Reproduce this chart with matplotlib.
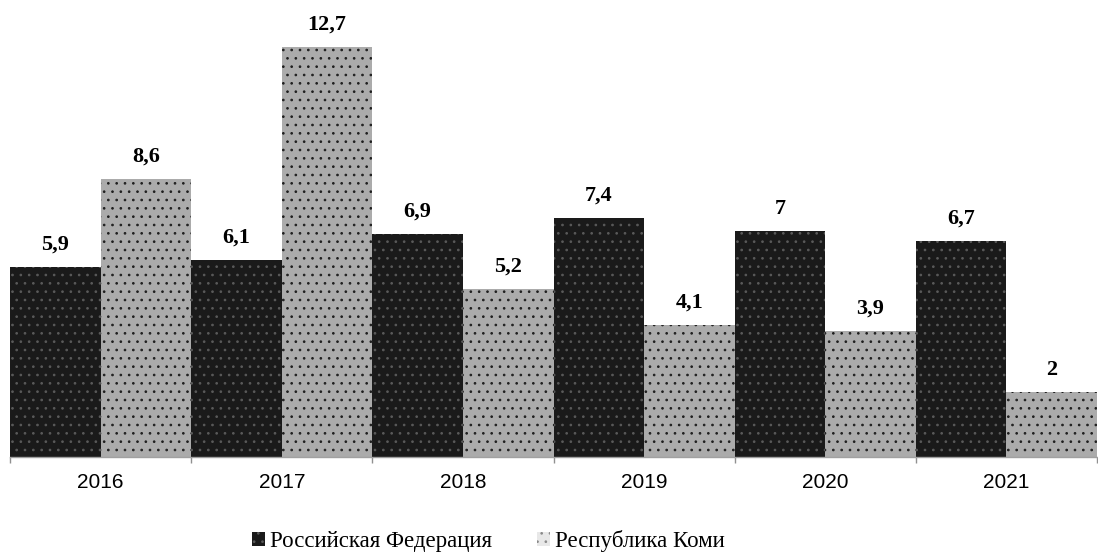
import numpy as np
import matplotlib.pyplot as plt
from matplotlib.patches import Patch
from matplotlib.font_manager import FontProperties

plt.switch_backend("agg")
plt.rcParams["hatch.linewidth"] = 0.7

years = ["2016", "2017", "2018", "2019", "2020", "2021"]
rf_values = [5.9, 6.1, 6.9, 7.4, 7.0, 6.7]
komi_values = [8.6, 12.7, 5.2, 4.1, 3.9, 2.0]
series_names = ["Российская Федерация", "Республика Коми"]


def fmt(v):
    s = ("%.1f" % v).rstrip("0").rstrip(".")
    return s.replace(".", ",")


fig = plt.figure(figsize=(10.98, 5.54), dpi=100)
# baseline at y=457 px, axis from x=10 to x=1097
ax = fig.add_axes([10 / 1098, 97 / 554, 1087 / 1098, 457 / 554])

x = np.arange(len(years))
w = 0.5
dark = ax.bar(x - w / 2, rf_values, w, color="#1a1a1a", edgecolor="#5a5a5a",
              hatch="..", linewidth=0)
light = ax.bar(x + w / 2, komi_values, w, color="#ababab", edgecolor="#1e1e1e",
               hatch="..", linewidth=0)

for bars, vals in ((dark, rf_values), (light, komi_values)):
    for b, v in zip(bars, vals):
        ax.annotate(fmt(v), (b.get_x() + b.get_width() / 2, v),
                    xytext=(0, 12.5), textcoords="offset points",
                    ha="center", va="baseline", fontsize=16,
                    family="Liberation Serif", fontweight="bold")

ax.set_xlim(-0.5, len(years) - 0.5)
ax.set_ylim(0, 12.7 * 457 / 410)

for s in ("top", "right", "left"):
    ax.spines[s].set_visible(False)
ax.spines["bottom"].set_color("#a0a0a0")
ax.spines["bottom"].set_linewidth(1)
ax.set_yticks([])

ax.set_xticks(x)
ax.set_xticklabels(years, fontsize=15, family="Liberation Sans")
ax.tick_params(axis="x", which="major", length=0, pad=11.5)
ax.set_xticks(np.arange(-0.5, len(years)), minor=True)
ax.tick_params(axis="x", which="minor", length=4, color="#909090", width=1)

handles = [Patch(facecolor="#1a1a1a", edgecolor="#5a5a5a", hatch="..", linewidth=0),
           Patch(facecolor="#e8e8e8", edgecolor="#8a8a8a", hatch="..", linewidth=0)]
fig.legend(handles, series_names, loc="center", bbox_to_anchor=(0.445, 0.023),
           ncol=2, frameon=False, handlelength=0.57, handleheight=0.57,
           handletextpad=0.22, columnspacing=1.95, borderpad=0,
           prop=FontProperties(family="Liberation Serif", size=16.5))

fig.savefig("out.png", dpi=100)
